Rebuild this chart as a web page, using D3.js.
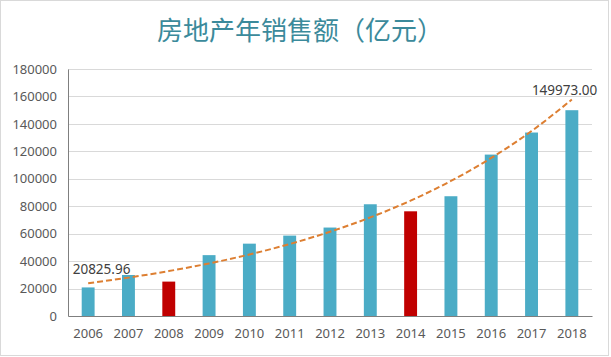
<!DOCTYPE html>
<html><head><meta charset="utf-8">
<script src="https://cdn.jsdelivr.net/npm/d3@7"></script>
<style>body{margin:0;background:#fff}svg{display:block}</style>
</head><body>
<svg id="c" width="611" height="357"></svg>
<script>
const title = "房地产年销售额（亿元）";
const years = ["2006","2007","2008","2009","2010","2011","2012","2013","2014","2015","2016","2017","2018"];
const sales = [20825.96,29889,25068,44355,52721,58589,64456,81428,76292,87281,117627,133701,149973];
const highlight = ["2008","2014"];
const yTicks = [0,20000,40000,60000,80000,100000,120000,140000,160000,180000];
const labelFirst = "20825.96";
const labelLast = "149973.00";

const svg = d3.select("#c");
const W = 611, H = 357;
const m = {l:68, r:19, t:69, b:41};
const font = "'Noto Sans','DejaVu Sans',sans-serif";

svg.append("rect").attr("x",0.5).attr("y",0.5).attr("width",608).attr("height",355)
  .attr("fill","#fff").attr("stroke","#d9d9d9");

const x = d3.scaleBand().domain(years).range([m.l, W-m.r]).paddingInner(0.68).paddingOuter(0.34);
const y = d3.scaleLinear().domain([0,180000]).range([H-m.b, m.t]);

// gridlines
svg.append("g").selectAll("line").data(yTicks.slice(1)).join("line")
  .attr("x1",m.l).attr("x2",W-m.r).attr("y1",d=>Math.round(y(d))+0.5).attr("y2",d=>Math.round(y(d))+0.5)
  .attr("stroke","#d9d9d9").attr("stroke-width",1);

// y axis
const ya = svg.append("g").attr("transform",`translate(${m.l},0)`)
  .call(d3.axisLeft(y).tickValues(yTicks).tickSize(0).tickPadding(11).tickFormat(d=>String(d)));
ya.select(".domain").attr("stroke","#7f7f7f");
ya.selectAll("text").attr("font-family",font).attr("font-size",13).attr("fill","#595959");

// bars
svg.append("g").selectAll("rect").data(years).join("rect")
  .attr("x",d=>x(d)).attr("width",x.bandwidth())
  .attr("y",(d,i)=>y(sales[i])).attr("height",(d,i)=>y(0)-y(sales[i]))
  .attr("fill",d=>highlight.includes(d)?"#c00000":"#4bacc6");

// x axis
const xa = svg.append("g").attr("transform",`translate(0,${H-m.b})`)
  .call(d3.axisBottom(x).tickSize(0).tickPadding(13));
xa.select(".domain").attr("stroke","#7f7f7f");
xa.selectAll("text").attr("font-family",font).attr("font-size",13).attr("fill","#595959");

// exponential trendline (least squares on log values)
const n = sales.length;
const lx = d3.range(n), ly = sales.map(Math.log);
const mx = d3.mean(lx), my = d3.mean(ly);
const slope = d3.sum(lx.map((v,i)=>(v-mx)*(ly[i]-my))) / d3.sum(lx.map(v=>(v-mx)*(v-mx)));
const icpt = my - slope*mx;
const trend = lx.map(i=>Math.exp(icpt + slope*i));
const line = d3.line().x((d,i)=>x(years[i])+x.bandwidth()/2).y(d=>y(d)).curve(d3.curveMonotoneX);
svg.append("path").datum(trend).attr("d",line).attr("fill","none")
  .attr("stroke","#dd7f32").attr("stroke-width",2).attr("stroke-dasharray","6,3");

// data labels
svg.append("text").attr("x",x(years[0])-9).attr("y",y(sales[0])-13)
  .attr("font-family",font).attr("font-size",13.5).attr("fill","#404040").text(labelFirst);
svg.append("text").attr("x",x(years[n-1])+x.bandwidth()+19).attr("y",y(sales[n-1])-15)
  .attr("text-anchor","end").attr("font-family",font).attr("font-size",13.5).attr("fill","#404040").text(labelLast);

// title
svg.append("text").attr("x",300).attr("y",40).attr("text-anchor","middle")
  .attr("font-family","'Noto Sans CJK SC',sans-serif").attr("font-size",26).attr("fill","#3b8a9b")
  .text(title);
</script>
</body></html>
